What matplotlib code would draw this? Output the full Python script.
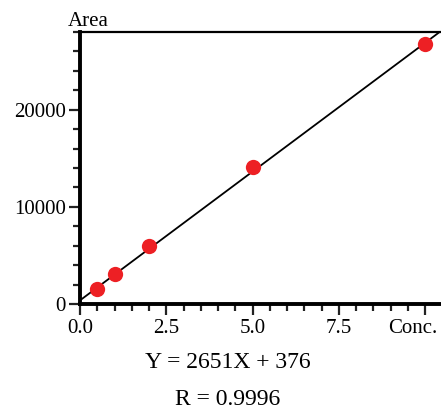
import matplotlib
matplotlib.use("Agg")
import matplotlib.pyplot as plt
import matplotlib.transforms as mtransforms
import numpy as np
from matplotlib.ticker import MultipleLocator

# calibration data
conc = [0.5, 1.0, 2.0, 5.0, 10.0]
area = [1550, 3100, 6000, 14100, 26750]
slope = 2651
intercept = 376
r_value = 0.9996

plt.rcParams['font.family'] = ['Liberation Serif', 'DejaVu Serif']

fig = plt.figure(figsize=(4.41, 4.12), dpi=100)
ax = fig.add_axes([0.1814, 0.2621, 0.8186, 0.6602])

xx = np.array([0, 10.5])
ax.plot(xx, slope * xx + intercept, color='black', lw=1.3, zorder=2)
ax.plot(conc, area, 'o', color='#ED2024', ms=11, mec='none', zorder=3)

ax.set_xlim(0, 10.46)
ax.set_ylim(0, 28000)

ax.spines['right'].set_visible(False)
ax.spines['left'].set_linewidth(2.8)
ax.spines['bottom'].set_linewidth(2.8)
ax.spines['top'].set_linewidth(1.6)

ax.xaxis.set_minor_locator(MultipleLocator(0.5))
ax.yaxis.set_major_locator(MultipleLocator(10000))
ax.yaxis.set_minor_locator(MultipleLocator(2000))
ax.set_xticks([0, 2.5, 5.0, 7.5, 10.0])
ax.set_xticklabels(['0.0', '2.5', '5.0', '7.5', 'Conc.'])
ax.tick_params(which='major', direction='out', length=8, width=1.6, labelsize=15, color='#222222')
ax.tick_params(which='minor', direction='out', length=5, width=1.6, color='#222222')
ax.tick_params(axis='x', pad=3)
ax.tick_params(axis='y', pad=2)

# pull the last label ("Conc.") left so it stays inside the figure
last = ax.get_xticklabels()[-1]
last.set_transform(last.get_transform() + mtransforms.ScaledTranslation(-12 / 100, 0, fig.dpi_scale_trans))

ax.text(-0.033, 1.005, 'Area', transform=ax.transAxes, fontsize=15, ha='left', va='bottom')

fig.text(0.517, 0.119, 'Y = %dX + %d' % (slope, intercept), fontsize=17, ha='center', va='center')
fig.text(0.517, 0.03, 'R = %.4f' % r_value, fontsize=17, ha='center', va='center')

fig.savefig('out.png', dpi=100)
